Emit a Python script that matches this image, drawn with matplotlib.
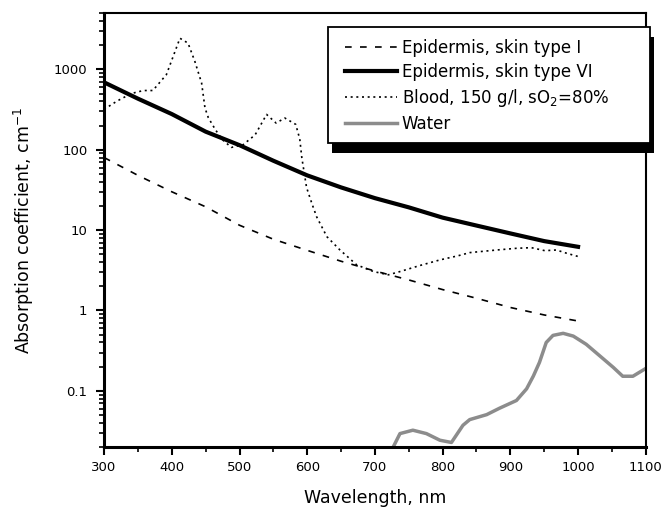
import numpy as np
import matplotlib
matplotlib.use('Agg')
import matplotlib.pyplot as plt
import matplotlib.patheffects as pe
from matplotlib.patches import Rectangle
from matplotlib.ticker import LogLocator, NullFormatter, FixedLocator

# wavelength grid (nm) for the epidermis curves
wl_epi = [300, 350, 400, 450, 500, 550, 600, 650, 700, 750, 800, 850, 900, 950, 1000]
# epidermis, skin type I
epi_1 = [80, 48, 30, 19.5, 11.5, 7.7, 5.6, 4.1, 3.1, 2.4, 1.82, 1.42, 1.09, 0.88, 0.74]
# epidermis, skin type VI
epi_6 = [690, 432, 278, 168, 114, 73, 48, 34, 25, 19.2, 14.3, 11.4, 9.1, 7.3, 6.2]

# blood, 150 g/l, sO2 = 80%
wl_blood = [300, 319, 340, 358, 372, 392, 412, 424, 434, 444, 449, 454, 464, 474, 488,
            505, 523, 540, 554, 567, 583, 589, 592, 599, 607, 614, 629, 648, 673, 698,
            720, 737, 765, 796, 823, 840, 880, 909, 931, 951, 968, 983, 1000]
blood = [318, 403, 500, 546, 546, 860, 2440, 2120, 1260, 678, 331, 250, 180, 135, 107,
         115, 153, 275, 215, 248, 207, 136, 80, 34, 21.3, 14.6, 8.3, 5.7, 3.7, 3.05,
         2.78, 3.05, 3.6, 4.26, 4.8, 5.25, 5.66, 5.94, 6.05, 5.55, 5.66, 5.16, 4.7]

# water
wl_water = [727, 737, 756, 776, 796, 813, 830, 840, 865, 884, 909, 924, 934, 943, 953,
            963, 978, 993, 1012, 1032, 1052, 1066, 1081, 1100]
water = [0.02, 0.0294, 0.0324, 0.0294, 0.0243, 0.0228, 0.0373, 0.0439, 0.0506, 0.0608,
         0.0759, 0.106, 0.153, 0.226, 0.40, 0.49, 0.52, 0.48, 0.38, 0.273, 0.196, 0.152,
         0.152, 0.19]

labels = ['Epidermis, skin type I', 'Epidermis, skin type VI',
          'Blood, 150 g/l, sO$_2$=80%', 'Water']

plt.rcParams['font.family'] = 'DejaVu Sans'

fig = plt.figure(figsize=(6.63, 5.08), dpi=100)
ax = fig.add_axes([0.157, 0.120, 0.817, 0.854])

ax.plot(wl_epi, epi_1, color='black', lw=1.2, linestyle=(0, (4, 5)), label=labels[0])
ax.plot(wl_epi, epi_6, color='black', lw=3.0, label=labels[1])
ax.plot(wl_blood, blood, color='black', lw=1.2, linestyle=(0, (1.2, 2.2)), label=labels[2])
ax.plot(wl_water, water, color='#8c8c8c', lw=2.5, label=labels[3])

ax.set_yscale('log')
ax.set_xlim(300, 1100)
ax.set_ylim(0.02, 5000)

ax.xaxis.set_major_locator(FixedLocator(np.arange(300, 1101, 100)))
ax.xaxis.set_minor_locator(FixedLocator(np.arange(350, 1100, 100)))
ax.yaxis.set_major_locator(FixedLocator([0.1, 1, 10, 100, 1000]))
ax.set_yticklabels(['0.1', '1', '10', '100', '1000'])
ax.yaxis.set_minor_locator(LogLocator(base=10, subs=np.arange(2, 10), numticks=20))
ax.yaxis.set_minor_formatter(NullFormatter())

ax.tick_params(which='major', direction='out', length=6, width=1.5, labelsize=9.5)
ax.tick_params(which='minor', direction='out', length=3.5, width=1.2)
ax.tick_params(axis='x', pad=4)
ax.tick_params(axis='y', pad=6)
for s in ax.spines.values():
    s.set_linewidth(1.5)
ax.spines['left'].set_linewidth(2.2)
ax.spines['bottom'].set_linewidth(2.2)

ax.set_xlabel('Wavelength, nm', fontsize=12.5, labelpad=11)
ax.set_ylabel('Absorption coefficient, cm$^{-1}$', fontsize=12.5, labelpad=13)

# legend box with solid drop shadow
box = Rectangle((0.4133, 0.7005), 0.5941, 0.2672, transform=ax.transAxes,
                facecolor='white', edgecolor='black', lw=1.3, zorder=5, clip_on=False)
box.set_path_effects([pe.SimplePatchShadow(offset=(2.9, -7.2), shadow_rgbFace='black', alpha=1.0),
                      pe.Normal()])
ax.add_patch(box)

leg = ax.legend(loc='upper left', bbox_to_anchor=(0.4446, 0.941), fontsize=12,
                frameon=False, handlelength=3.1, handletextpad=0.3,
                labelspacing=0.36, borderpad=0, borderaxespad=0)
leg.set_zorder(6)

fig.savefig('out.png', dpi=100)
